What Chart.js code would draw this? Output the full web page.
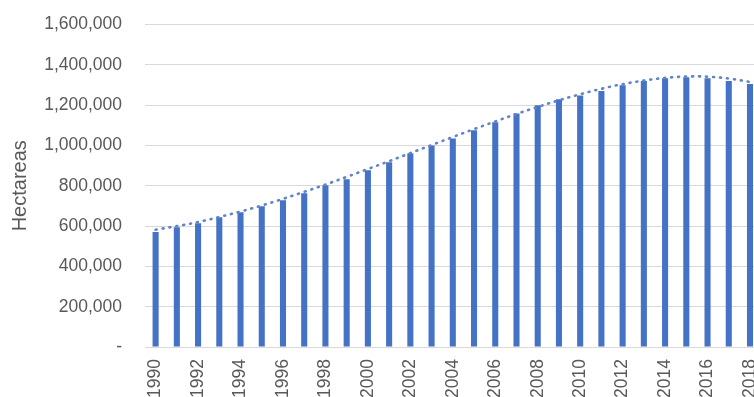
<!DOCTYPE html>
<html>
<head>
<meta charset="utf-8">
<script src="https://cdn.jsdelivr.net/npm/chart.js@4/dist/chart.umd.min.js"></script>
<style>
  html, body { margin: 0; padding: 0; background: #ffffff; overflow: hidden; }
  #wrap { position: relative; top: -9px; width: 783px; height: 409px; }
</style>
</head>
<body>
<div id="wrap"><canvas id="chart"></canvas></div>
<script>
// Cultivated area per year (hectares)
const years = ['1990','1991','1992','1993','1994','1995','1996','1997','1998','1999',
               '2000','2001','2002','2003','2004','2005','2006','2007','2008','2009',
               '2010','2011','2012','2013','2014','2015','2016','2017','2018'];
const hectares = [570000, 594000, 614000, 644000, 669000, 698000, 728000, 763000, 802000, 832000,
                  877000, 916000, 961000, 1000000, 1035000, 1075000, 1115000, 1159000, 1199000, 1229000,
                  1248000, 1270000, 1298000, 1320000, 1333000, 1338000, 1333000, 1320000, 1305000];
// Polynomial trend line
const trend = [582000, 600000, 620000, 645000, 672000, 702000, 735000, 770000, 806000, 844000,
               883000, 922000, 962000, 1002000, 1042000, 1081000, 1119000, 1156000, 1191000, 1224000,
               1254000, 1281000, 1304000, 1322000, 1335000, 1342000, 1341000, 1332000, 1315000];
const yTicks = [0, 200000, 400000, 600000, 800000, 1000000, 1200000, 1400000, 1600000];
const yTitle = 'Hectareas';

const blue = '#4472C4';
const grey = '#595959';
const font = { family: '"Liberation Sans", Arial, sans-serif', size: 17.5 };

new Chart(document.getElementById('chart'), {
  data: {
    labels: years,
    datasets: [
      {
        type: 'line',
        data: trend,
        borderColor: '#6283c6',
        borderWidth: 2.6,
        borderDash: [1, 6],
        borderCapStyle: 'round',
        pointRadius: 0,
        tension: 0.4,
        fill: false,
        order: 0
      },
      {
        type: 'bar',
        data: hectares,
        backgroundColor: blue,
        barPercentage: 0.55,
        categoryPercentage: 0.52,
        order: 1
      }
    ]
  },
  options: {
    responsive: true,
    maintainAspectRatio: false,
    animation: false,
    layout: { padding: { top: 0, left: 0, right: 0, bottom: 0 } },
    plugins: { legend: { display: false }, tooltip: { enabled: false } },
    scales: {
      x: {
        grid: { display: false, drawTicks: false },
        border: { display: false },
        afterFit: function (axis) { axis.height = 53; },
        ticks: {
          color: grey,
          font: font,
          autoSkip: false,
          minRotation: 90,
          maxRotation: 90,
          padding: 12,
          callback: function (v, i) { return i % 2 === 0 ? years[i] : ''; }
        }
      },
      y: {
        min: 0,
        max: 1600000,
        afterBuildTicks: function (axis) { axis.ticks = yTicks.map(v => ({ value: v })); },
        afterFit: function (axis) { axis.width = 145; },
        grid: { color: '#d9d9d9', lineWidth: 1, drawTicks: false },
        border: { display: false },
        title: { display: true, text: yTitle, color: grey, font: { family: font.family, size: 20 }, padding: { top: 8, bottom: 10 } },
        ticks: {
          color: grey,
          font: font,
          padding: 23,
          callback: function (v) { return v === 0 ? '-' : Number(v).toLocaleString('en-US'); }
        }
      }
    }
  }
});
</script>
</body>
</html>
